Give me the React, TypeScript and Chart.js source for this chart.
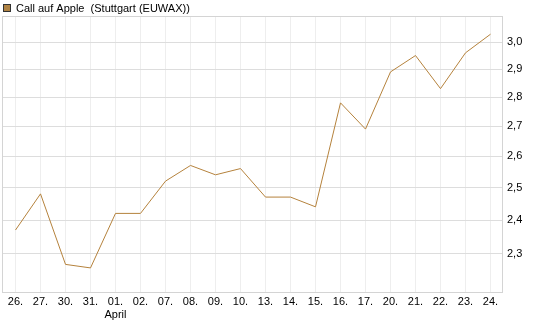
import React, { useEffect, useRef } from "react";
import { Chart, registerables } from "chart.js";

Chart.register(...registerables);

const categories: (string | string[])[] = [
  "26.", "27.", "30.", "31.", ["01.", "April"], "02.", "07.", "08.", "09.", "10.",
  "13.", "14.", "15.", "16.", "17.", "20.", "21.", "22.", "23.", "24.",
];
const prices: number[] = [
  2.37, 2.48, 2.27, 2.26, 2.42, 2.42, 2.52, 2.57, 2.54, 2.56,
  2.47, 2.47, 2.44, 2.78, 2.69, 2.89, 2.95, 2.83, 2.96, 3.03,
];
const yTicks: number[] = [2.3, 2.4, 2.5, 2.6, 2.7, 2.8, 2.9, 3.0];
const seriesLabel = "Call auf Apple  (Stuttgart (EUWAX))";
const lineColor = "#b5823c";
const FONT = "'Liberation Sans', Arial, sans-serif";

const frameAndLegend = {
  id: "frameAndLegend",
  afterDatasetsDraw(chart: any) {
    const { ctx, chartArea } = chart;
    ctx.save();
    ctx.strokeStyle = "#d4d4d4";
    ctx.lineWidth = 1;
    ctx.strokeRect(
      Math.round(chartArea.left) - 0.5,
      Math.round(chartArea.top) + 0.5,
      Math.round(chartArea.right - chartArea.left),
      Math.round(chartArea.bottom - chartArea.top) - 1
    );
    // legend
    ctx.fillStyle = "#b08344";
    ctx.fillRect(3, 4, 8, 8);
    ctx.strokeStyle = "#333";
    ctx.strokeRect(3.5, 4.5, 7, 7);
    ctx.fillStyle = "#000";
    ctx.font = `11px ${FONT}`;
    ctx.textBaseline = "alphabetic";
    ctx.textAlign = "left";
    ctx.fillText(chart.data.datasets[0].label, 16, 12);
    ctx.restore();
  },
};

export default function App() {
  const ref = useRef<HTMLCanvasElement>(null);
  useEffect(() => {
    document.body.style.margin = "0";
    const chart = new Chart(ref.current!, {
      type: "line",
      data: {
        labels: categories,
        datasets: [
          {
            label: seriesLabel,
            data: prices,
            borderColor: lineColor,
            borderWidth: 1,
            pointRadius: 0,
            tension: 0,
            fill: false,
          },
        ],
      },
      options: {
        responsive: false,
        animation: false,
        layout: { padding: { top: 16, left: 3, right: 0, bottom: 0 } },
        plugins: { legend: { display: false }, tooltip: { enabled: false } },
        scales: {
          x: {
            type: "category",
            offset: true,
            grid: { offset: false, color: "#eeeeee", drawTicks: false },
            border: { display: false },
            ticks: {
              color: "#000",
              font: { family: FONT, size: 11 },
              padding: 2,
              maxRotation: 0,
              autoSkip: false,
            },
            afterFit(scale: any) {
              scale.height = 34;
            },
          },
          y: {
            type: "logarithmic",
            position: "right",
            min: 2.19,
            max: 3.1,
            grid: { color: "#dddddd", drawTicks: false },
            border: { display: false },
            afterBuildTicks(scale: any) {
              scale.ticks = yTicks.map((v) => ({ value: v }));
            },
            ticks: {
              color: "#000",
              font: { family: FONT, size: 11 },
              padding: 4,
              callback: (v: any) => Number(v).toFixed(1).replace(".", ","),
            },
            afterFit(scale: any) {
              scale.width = 42;
            },
          },
        },
      },
      plugins: [frameAndLegend],
    });
    return () => chart.destroy();
  }, []);
  return <canvas ref={ref} width={545} height={327} style={{ display: "block" }} />;
}
